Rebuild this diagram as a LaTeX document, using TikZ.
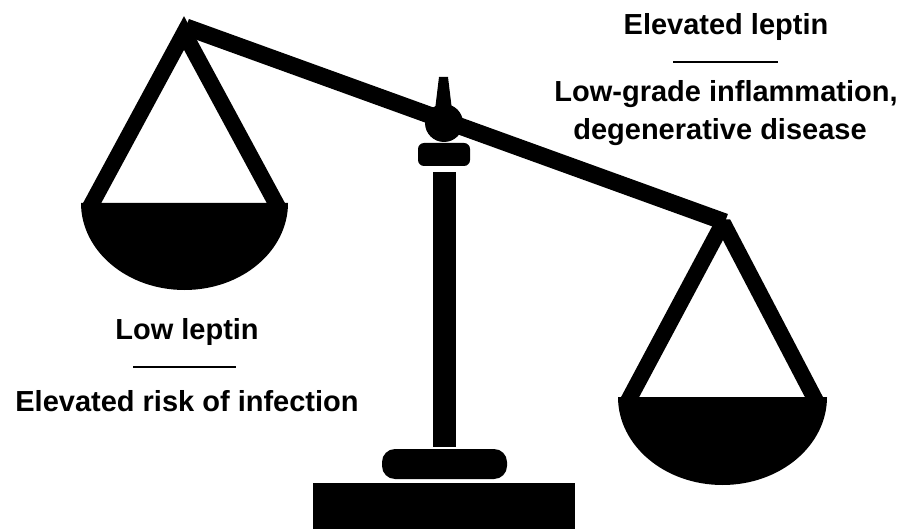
\documentclass[tikz,border=0pt]{standalone}
\usepackage{fontspec}
\setmainfont{Liberation Sans}
\usetikzlibrary{positioning}
\tikzset{
    label/.style={font=\fontsize{29}{33}\selectfont\bfseries, inner sep=0pt},
    strut/.style={line width=16pt, line cap=butt, line join=miter},
    bar/.style={line width=2pt}
}

\begin{document}
\begin{tikzpicture}[x=1pt, y=-1pt]
    \useasboundingbox (0,0) rectangle (907,529);

    % Beam
    \coordinate (apexL) at (184,33);
    \coordinate (apexR) at (723,223);
    \draw[strut, line width=17pt] (186,27) -- (725,222);

    % Left pan
    \draw[strut] (90,207) -- (apexL) -- (278,207);
    \fill (81,203) -- (288,203) arc (0:180:103.5 and 87) -- cycle;

    % Right pan
    \draw[strut, line join=bevel] (628,401) -- (apexR) -- (816,401);
    \fill (618,397) -- (827,397) arc (0:180:104.5 and 88) -- cycle;

    % Stand
    \fill (444,123) circle (19);
    \fill (439,77) -- (448,77) -- (452,110) -- (435,110) -- cycle;
    \fill[rounded corners=6pt] (418,143) rectangle (470,166);
    \fill (433,172) rectangle (456,447);
    \fill[rounded corners=13pt] (382,449) rectangle (507,479);
    \fill (313,483) rectangle (575,529);

    % Right labels
    \node[label] (elev) at (726,27) {Elevated leptin};
    \coordinate (elevA) at (673,62);
    \coordinate (elevB) at (778,62);
    \draw[bar] (elevA) -- (elevB);
    \node[label] (lowgrade) at (726,94) {Low-grade inflammation,};
    \node[label] (degen) at (720,132) {degenerative disease};

    % Left labels
    \node[label] (low) at (187,332) {Low leptin};
    \coordinate (lowA) at (133,367);
    \coordinate (lowB) at (236,367);
    \draw[bar] (lowA) -- (lowB);
    \node[label] (risk) at (187,401) {Elevated risk of infection};
\end{tikzpicture}
\end{document}
